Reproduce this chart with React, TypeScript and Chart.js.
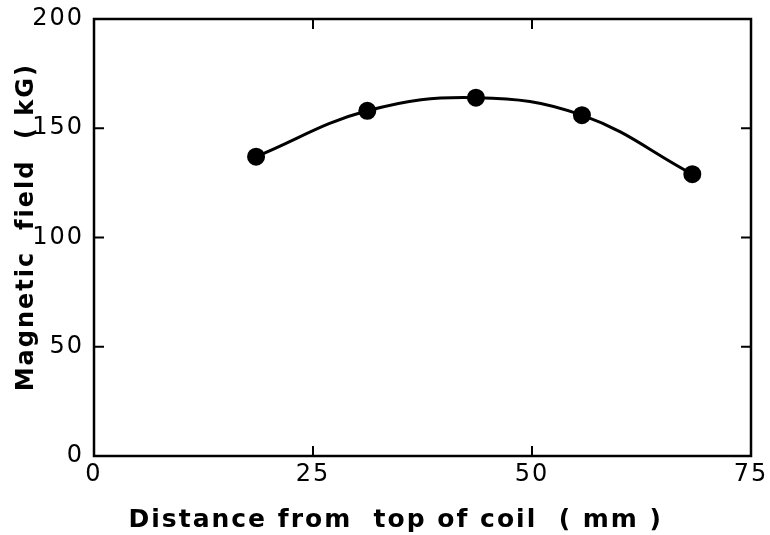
import React, { useEffect, useRef } from "react";
import { Chart, registerables } from "chart.js";

Chart.register(...registerables);

const distanceMm = [18.5, 31.2, 43.6, 55.7, 68.3];
const fieldKG = [137, 158, 164, 156, 129];
const xTicks = [0, 25, 50, 75];
const yTicks = [0, 50, 100, 150, 200];

const spacing = {
  id: "spacing",
  beforeDraw(chart: any) {
    (chart.ctx as any).letterSpacing = "2px";
  },
  afterDraw(chart: any) {
    (chart.ctx as any).letterSpacing = "0px";
  },
};

const frame = {
  id: "frame",
  afterDraw(chart: any) {
    const { ctx, chartArea, scales } = chart;
    const { left, right, top, bottom } = chartArea;
    ctx.save();
    ctx.strokeStyle = "#000";
    ctx.lineWidth = 2.5;
    ctx.strokeRect(left, top, right - left, bottom - top);
    ctx.lineWidth = 2;
    const len = 10;
    for (const v of xTicks) {
      if (v === xTicks[0] || v === xTicks[xTicks.length - 1]) continue;
      const px = scales.x.getPixelForValue(v);
      ctx.beginPath();
      ctx.moveTo(px, bottom);
      ctx.lineTo(px, bottom - len);
      ctx.moveTo(px, top);
      ctx.lineTo(px, top + len);
      ctx.stroke();
    }
    for (const v of yTicks) {
      if (v === yTicks[0] || v === yTicks[yTicks.length - 1]) continue;
      const py = scales.y.getPixelForValue(v);
      ctx.beginPath();
      ctx.moveTo(left, py);
      ctx.lineTo(left + len, py);
      ctx.moveTo(right, py);
      ctx.lineTo(right - len, py);
      ctx.stroke();
    }
    ctx.restore();
  },
};

export default function App() {
  const ref = useRef<HTMLCanvasElement | null>(null);
  useEffect(() => {
    document.body.style.margin = "0";
    const chart = new Chart(ref.current as HTMLCanvasElement, {
      type: "line",
      data: {
        datasets: [
          {
            data: distanceMm.map((x, i) => ({ x, y: fieldKG[i] })),
            borderColor: "#000",
            backgroundColor: "#000",
            borderWidth: 3,
            pointRadius: 7.5,
            pointBackgroundColor: "#000",
            pointBorderColor: "#000",
            tension: 0.4,
          },
        ],
      },
      options: {
        animation: false,
        responsive: false,
        devicePixelRatio: 1,
        layout: { padding: { top: 19, right: 19, left: 0, bottom: 0 } },
        plugins: { legend: { display: false }, tooltip: { enabled: false } },
        scales: {
          x: {
            type: "linear",
            min: 0,
            max: 75,
            afterBuildTicks: (s: any) => {
              s.ticks = xTicks.map((v) => ({ value: v }));
            },
            afterFit: (s: any) => {
              s.height = 79;
              s.paddingLeft = 0;
              s.paddingRight = 0;
            },
            grid: { display: false, drawTicks: false },
            border: { display: false },
            ticks: {
              color: "#000",
              padding: 4,
              font: { family: "DejaVu Sans", size: 24 },
            },
            title: {
              display: true,
              text: "Distance from  top of coil  ( mm )     ",
              color: "#000",
              padding: { top: 3, bottom: 0 },
              font: { family: "DejaVu Sans", size: 25, weight: "bold" },
            },
          },
          y: {
            type: "linear",
            min: 0,
            max: 200,
            afterBuildTicks: (s: any) => {
              s.ticks = yTicks.map((v) => ({ value: v }));
            },
            afterFit: (s: any) => {
              s.width = 94;
              s.paddingTop = 0;
              s.paddingBottom = 0;
            },
            grid: { display: false, drawTicks: false },
            border: { display: false },
            ticks: {
              color: "#000",
              padding: 10,
              font: { family: "DejaVu Sans", size: 24 },
            },
            title: {
              display: true,
              text: "  Magnetic  field  ( kG)",
              color: "#000",
              padding: { top: 12, bottom: 0 },
              font: { family: "DejaVu Sans", size: 24, weight: "bold" },
            },
          },
        },
      },
      plugins: [spacing, frame],
    } as any);
    return () => chart.destroy();
  }, []);
  return (
    <div style={{ position: "absolute", left: 0, top: 0, width: 770, height: 535, background: "#fff" }}>
      <canvas ref={ref} width={770} height={535} style={{ width: 770, height: 535 }} />
    </div>
  );
}
